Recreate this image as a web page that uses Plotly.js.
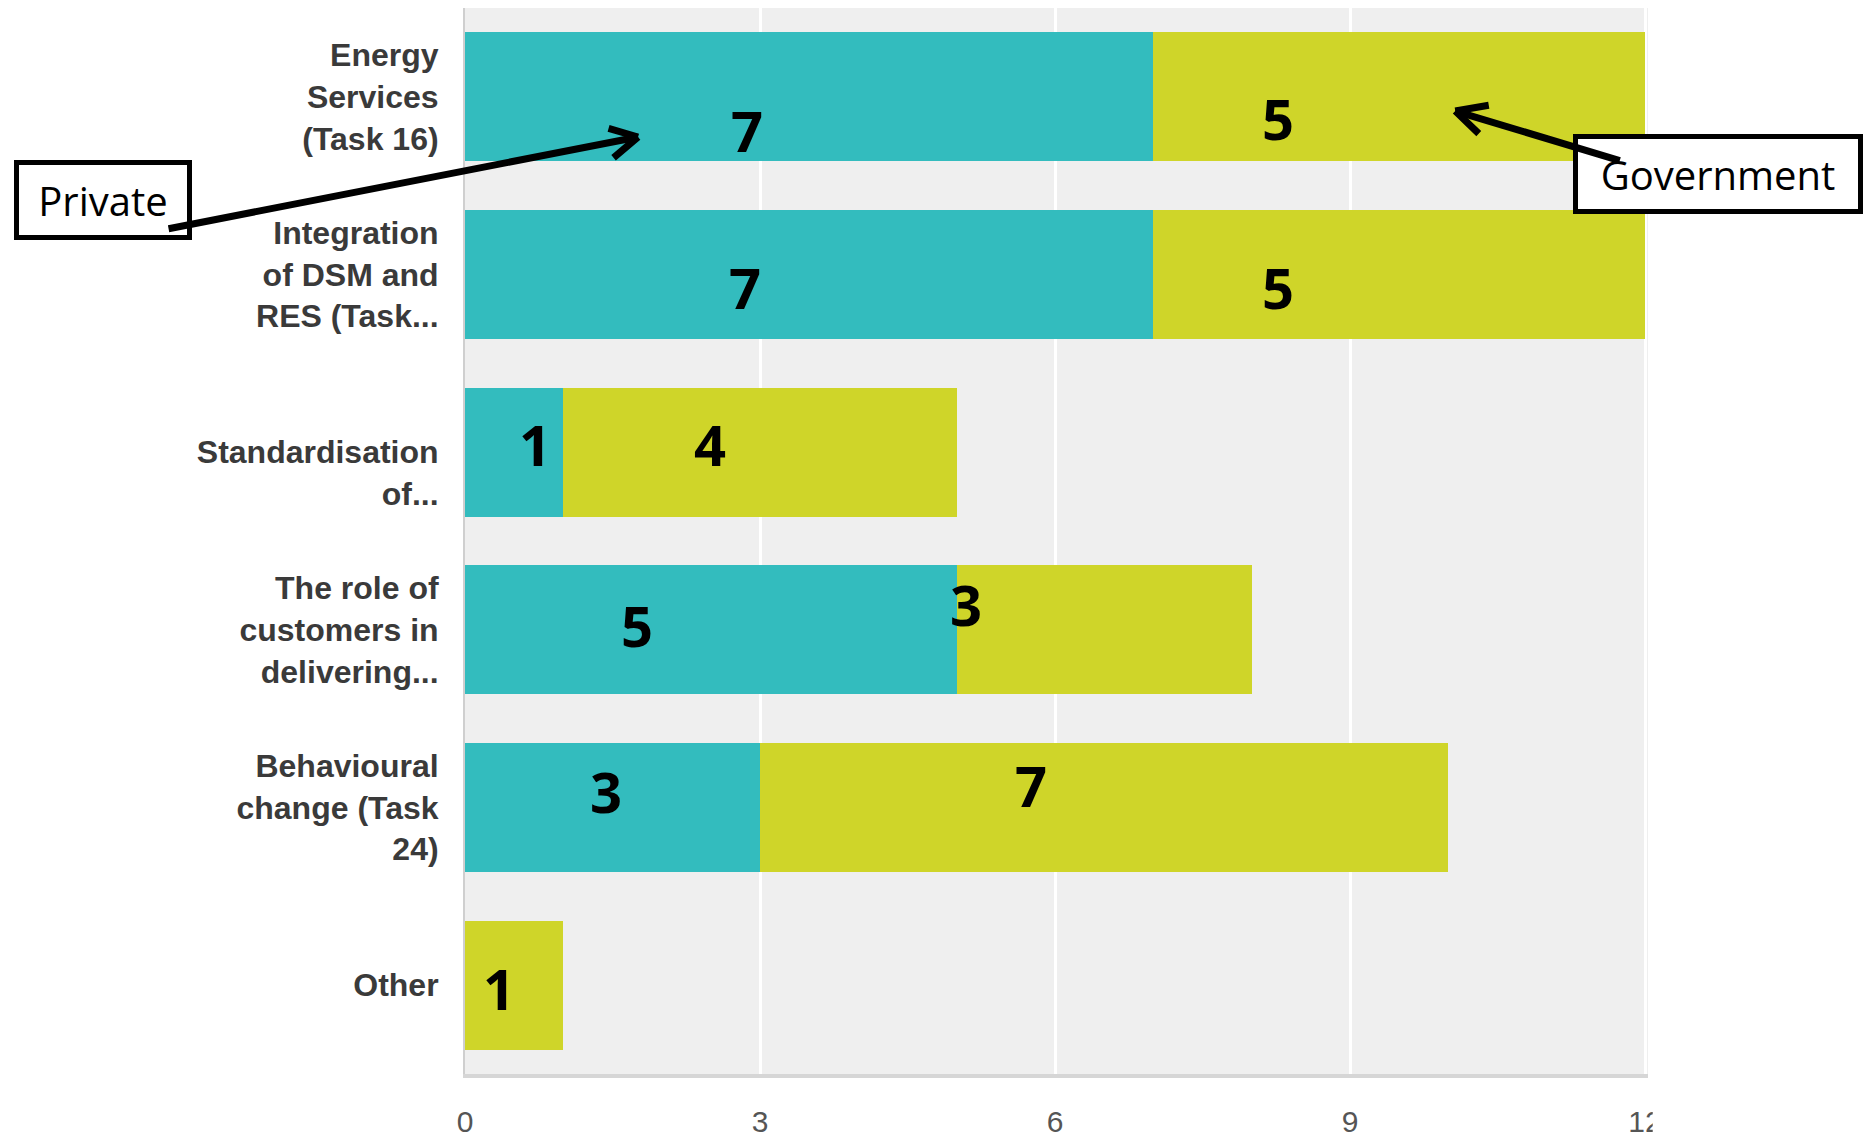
<!DOCTYPE html>
<html><head><meta charset="utf-8">
<script src="https://cdn.plot.ly/plotly-3.0.1.min.js"></script>
<style>html,body{margin:0;padding:0;background:#fff;} #chart{width:1871px;height:1144px;}</style>
</head><body><div id="chart"></div>
<script>
// ---- data ----
const categories = [
  "Energy Services (Task 16)",
  "Integration of DSM and RES (Task...",
  "Standardisation of...",
  "The role of customers in delivering...",
  "Behavioural change (Task 24)",
  "Other"
];
const tickLabels = [
  "Energy<br>Services<br>(Task 16)",
  "Integration<br>of DSM and<br>RES (Task...",
  " <br>Standardisation<br>of...",
  "The role of<br>customers in<br>delivering...",
  "Behavioural<br>change (Task<br>24)",
  "Other"
];
const privateValues = [7, 7, 1, 5, 3, 0];
const governmentValues = [5, 5, 4, 3, 7, 1];
const xTickValues = [0, 3, 6, 9, 12];
const seriesNames = ["Private", "Government"];

// ---- label placement (layout only) ----
const privateLabelX = [2.87, 2.85, 0.71, 1.75, 1.43, null];
const privateLabelShift = [-33, -12, 8, 5, 17, 0];
const governmentLabelX = [8.27, 8.27, 2.49, 5.09, 5.76, 0.35];
const governmentLabelShift = [-21, -12, 8, 26, 23, -3];

const teal = "rgb(51,188,190)";
const lime = "rgb(207,213,41)";

const traces = [
  {type: "bar", orientation: "h", name: seriesNames[0], y: categories, x: privateValues,
   marker: {color: teal, line: {width: 0}}, hoverinfo: "x+y"},
  {type: "bar", orientation: "h", name: seriesNames[1], y: categories, x: governmentValues,
   marker: {color: lime, line: {width: 0}}, hoverinfo: "x+y"}
];

const labelFont = {family: "Open Sans, Noto Sans, sans-serif", size: 56, color: "#000", weight: 700};
const annotations = [];
categories.forEach((c, i) => {
  if (privateValues[i] > 0 && privateLabelX[i] !== null) {
    annotations.push({x: privateLabelX[i], y: i, xref: "x", yref: "y", text: String(privateValues[i]),
      showarrow: false, yshift: privateLabelShift[i], font: labelFont});
  }
  if (governmentValues[i] > 0) {
    annotations.push({x: governmentLabelX[i], y: i, xref: "x", yref: "y", text: String(governmentValues[i]),
      showarrow: false, yshift: governmentLabelShift[i], font: labelFont});
  }
});

const boxFont = {family: "Open Sans, Noto Sans, sans-serif", size: 40, color: "#000"};
annotations.push({xref: "paper", yref: "paper", x: -0.306, y: 0.82, xanchor: "center", yanchor: "middle",
  text: seriesNames[0], showarrow: false, width: 162, height: 64, borderwidth: 5, borderpad: 3,
  bordercolor: "#000", bgcolor: "#fff", font: boxFont});
annotations.push({xref: "paper", yref: "paper", x: 1.059, y: 0.844, xanchor: "center", yanchor: "middle",
  text: seriesNames[1], showarrow: false, width: 274, height: 64, borderwidth: 5, borderpad: 3,
  bordercolor: "#000", bgcolor: "#fff", font: boxFont});

// pointer arrows: shaft + two chevron arms, all drawn as pixel offsets from the tip
const arrowStyle = {xref: "x", yref: "y", text: "", showarrow: true, arrowhead: 0,
  arrowwidth: 7, arrowcolor: "#000", standoff: 0, startstandoff: 0};
const pointers = [
  {x: 1.76, y: 0.226, shaft: [-471, 92], arms: [[-31, -9], [-26, 22]]},
  {x: 10.07, y: 0.08, shaft: [166, 50], arms: [[35, -6], [25, 24]]}
];
pointers.forEach(p => {
  [p.shaft].concat(p.arms).forEach(v => {
    annotations.push(Object.assign({}, arrowStyle, {x: p.x, y: p.y, ax: v[0], ay: v[1]}));
  });
});

const layout = {
  width: 1871, height: 1144,
  margin: {l: 465, r: 223, t: 8, b: 70, pad: 0},
  paper_bgcolor: "#fff",
  plot_bgcolor: "#efefef",
  barmode: "stack",
  bargap: 0.275,
  showlegend: false,
  xaxis: {
    range: [0, 12.03], tickvals: xTickValues, ticktext: xTickValues.map(String),
    showgrid: true, gridcolor: "#ffffff", gridwidth: 3, zeroline: false,
    showline: true, linecolor: "#d6d6d6", linewidth: 4,
    ticks: "", ticklabelstandoff: 18,
    tickfont: {family: "Liberation Sans Narrow, Liberation Sans, Arial, sans-serif", size: 30, color: "#555"},
    automargin: false, fixedrange: true
  },
  yaxis: {
    type: "category", autorange: false, range: [5.5, -0.5],
    tickvals: categories, ticktext: tickLabels,
    showgrid: false, zeroline: false,
    showline: true, linecolor: "#cfcfcf", linewidth: 2,
    ticks: "", ticklabelstandoff: 18,
    tickfont: {family: "Liberation Sans, Arial, sans-serif", size: 32, color: "#3a3a3a", weight: 700},
    automargin: false, fixedrange: true
  },
  shapes: [
    {type: "rect", xref: "paper", yref: "paper", x0: 1.004, x1: 1.06, y0: -0.01, y1: -0.08,
     fillcolor: "#fff", line: {width: 0}, layer: "above"}
  ],
  annotations: annotations
};

Plotly.newPlot("chart", traces, layout, {displayModeBar: false, staticPlot: true});
</script>
</body></html>
